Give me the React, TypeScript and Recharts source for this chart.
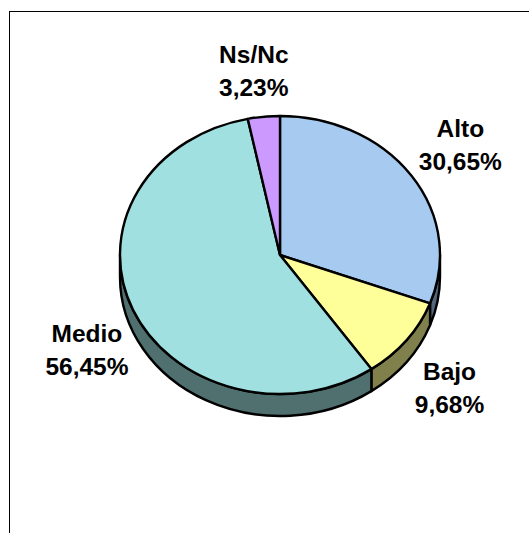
import React from 'react';
import { PieChart, Pie, Cell } from 'recharts';

const categories = ['Alto', 'Bajo', 'Medio', 'Ns/Nc'];
const shares = [30.65, 9.68, 56.45, 3.23];
const faceColors = ['#A6CAF0', '#FFFF99', '#A0E0E0', '#CC99FF'];
const wallColors = ['#53657A', '#80804D', '#507070', '#664C80'];
// how far each label sits from the rim of the pie, in px
const labelNudgeX = [49, 43, -46, -10];
const labelNudgeY = [-31, 48, 40, -46];

const RX = 160;
const RY = 139;
const DEPTH = 22;
const FONT = '"Liberation Sans", Arial, sans-serif';

const data = categories.map((name, i) => ({ name, value: shares[i] }));

const rim = (cx: number, cy: number, deg: number, drop = 0) => {
  const a = (deg * Math.PI) / 180;
  return { x: cx + RX * Math.cos(a), y: cy - RY * Math.sin(a) + drop };
};

const FaceSlice = (props: any) => {
  const { cx, cy, startAngle, endAngle, fill } = props;
  const p0 = rim(cx, cy, startAngle);
  const p1 = rim(cx, cy, endAngle);
  const large = Math.abs(startAngle - endAngle) > 180 ? 1 : 0;
  const d = `M${cx},${cy}L${p0.x},${p0.y}A${RX},${RY} 0 ${large} 1 ${p1.x},${p1.y}Z`;
  return <path d={d} fill={fill} stroke="#000" strokeWidth={2.4} strokeLinejoin="round" />;
};

// side of the pie, only the part facing the viewer
const WallSlice = (props: any) => {
  const { cx, cy, startAngle, endAngle, fill } = props;
  const s = Math.min(startAngle, 0);
  const e = Math.max(endAngle, -180);
  if (s <= e) return <g />;
  const a = rim(cx, cy, s);
  const b = rim(cx, cy, e);
  const c = rim(cx, cy, e, DEPTH);
  const f = rim(cx, cy, s, DEPTH);
  const d = `M${a.x},${a.y}A${RX},${RY} 0 0 1 ${b.x},${b.y}L${c.x},${c.y}A${RX},${RY} 0 0 0 ${f.x},${f.y}Z`;
  return <path d={d} fill={fill} stroke="#000" strokeWidth={2.4} strokeLinejoin="round" />;
};

const renderLabel = (props: any) => {
  const { cx, cy, midAngle, index, value, name } = props;
  const p = rim(cx, cy, midAngle);
  const x = p.x + labelNudgeX[index];
  const y = p.y + labelNudgeY[index];
  return (
    <text x={x} y={y} textAnchor="middle" fontFamily={FONT} fontWeight="bold" fontSize={24.5} fill="#000">
      <tspan x={x} dy={-8}>{name}</tspan>
      <tspan x={x} dy={33}>{value.toFixed(2).replace('.', ',') + '%'}</tspan>
    </text>
  );
};

export default function App() {
  return (
    <div style={{ position: 'absolute', left: 0, top: 0, width: 529, height: 533, overflow: 'hidden', background: '#fff' }}>
      <div style={{ position: 'absolute', left: 9, top: 11, width: 600, height: 600, borderLeft: '1px solid #000', borderTop: '1px solid #000' }} />
      <div style={{ position: 'absolute', left: 0, top: 0 }}>
        <PieChart width={529} height={533} margin={{ top: 0, right: 0, bottom: 0, left: 0 }}>
          <Pie
            data={data}
            dataKey="value"
            nameKey="name"
            cx={280}
            cy={255}
            outerRadius={RX}
            startAngle={90}
            endAngle={-270}
            paddingAngle={0}
            isAnimationActive={false}
            shape={WallSlice}
            legendType="none"
          >
            {data.map((d, i) => <Cell key={d.name} fill={wallColors[i]} />)}
          </Pie>
          <Pie
            data={data}
            dataKey="value"
            nameKey="name"
            cx={280}
            cy={255}
            outerRadius={RX}
            startAngle={90}
            endAngle={-270}
            paddingAngle={0}
            isAnimationActive={false}
            shape={FaceSlice}
            label={renderLabel}
            labelLine={false}
            legendType="none"
          >
            {data.map((d, i) => <Cell key={d.name} fill={faceColors[i]} />)}
          </Pie>
        </PieChart>
      </div>
    </div>
  );
}
